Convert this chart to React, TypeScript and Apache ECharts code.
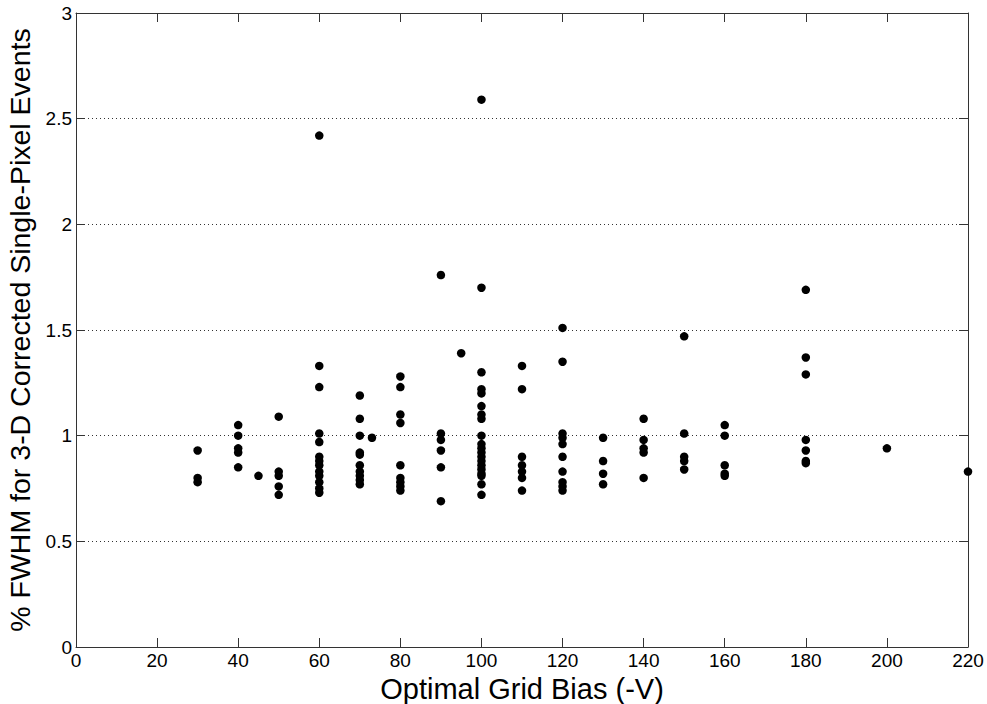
import React, { useEffect, useRef } from "react";
import * as echarts from "echarts";

const gridBias = [30, 40, 45, 50, 60, 70, 73, 80, 90, 95, 100, 110, 120, 130, 140, 150, 160, 180, 200, 220];
const fwhm: number[][] = [
  [0.93, 0.8, 0.78],
  [1.05, 1.0, 0.94, 0.92, 0.85],
  [0.81],
  [1.09, 0.83, 0.81, 0.76, 0.72],
  [2.42, 1.33, 1.23, 1.01, 0.97, 0.9, 0.88, 0.86, 0.83, 0.81, 0.78, 0.75, 0.73],
  [1.19, 1.08, 1.0, 0.92, 0.91, 0.86, 0.83, 0.81, 0.79, 0.77],
  [0.99],
  [1.28, 1.23, 1.1, 1.06, 0.86, 0.8, 0.78, 0.76, 0.74],
  [1.76, 1.01, 0.98, 0.93, 0.85, 0.69],
  [1.39],
  [2.59, 1.7, 1.3, 1.22, 1.2, 1.14, 1.1, 1.08, 1.0, 0.96, 0.94, 0.92, 0.9, 0.88, 0.86, 0.84, 0.82, 0.81, 0.77, 0.72],
  [1.33, 1.22, 0.9, 0.86, 0.83, 0.8, 0.74],
  [1.51, 1.35, 1.01, 0.99, 0.96, 0.9, 0.83, 0.78, 0.76, 0.74],
  [0.99, 0.88, 0.82, 0.77],
  [1.08, 0.98, 0.94, 0.92, 0.8],
  [1.47, 1.01, 0.9, 0.88, 0.84],
  [1.05, 1.0, 0.86, 0.82, 0.81],
  [1.69, 1.37, 1.29, 0.98, 0.93, 0.88, 0.87],
  [0.94],
  [0.83],
];
const xTitle = "Optimal Grid Bias (-V)";
const yTitle = "% FWHM for 3-D Corrected Single-Pixel Events";

export default function App() {
  const ref = useRef<HTMLDivElement>(null);
  useEffect(() => {
    if (!ref.current) return;
    const chart = echarts.init(ref.current, null, { renderer: "svg" });
    const data: number[][] = [];
    gridBias.forEach((x, i) => fwhm[i].forEach((y) => data.push([x, y])));
    const font = "'Liberation Sans', Arial, sans-serif";
    const axisLine = { show: true, onZero: false, lineStyle: { color: "#333", width: 1 } };
    const tick = { show: true, inside: true, length: 9, lineStyle: { color: "#333" } };
    chart.setOption({
      animation: false,
      backgroundColor: "#fff",
      grid: { left: 76, right: 19, top: 13, bottom: 57, containLabel: false, outerBoundsMode: "none" },
      xAxis: [
        {
          type: "value",
          min: 0,
          max: 220,
          interval: 20,
          name: xTitle,
          nameLocation: "middle",
          nameGap: 21,
          nameTextStyle: { fontFamily: font, fontSize: 29, color: "#000" },
          axisLine,
          axisTick: tick,
          axisLabel: { fontFamily: font, fontSize: 19, color: "#000", margin: 4 },
          splitLine: { show: false },
        },
        {
          type: "value",
          position: "top",
          min: 0,
          max: 220,
          interval: 20,
          axisLine,
          axisTick: tick,
          axisLabel: { show: false },
          splitLine: { show: false },
        },
      ],
      yAxis: [
        {
          type: "value",
          min: 0,
          max: 3,
          interval: 0.5,
          name: yTitle,
          nameLocation: "middle",
          nameGap: 41,
          nameTextStyle: { fontFamily: font, fontSize: 28.5, color: "#000" },
          axisLine,
          axisTick: tick,
          axisLabel: { fontFamily: font, fontSize: 19, color: "#000", margin: 4 },
          splitLine: { show: true, lineStyle: { color: "#333", type: [1, 3], width: 1 } },
        },
        {
          type: "value",
          position: "right",
          min: 0,
          max: 3,
          interval: 0.5,
          axisLine,
          axisTick: tick,
          axisLabel: { show: false },
          splitLine: { show: false },
        },
      ],
      series: [
        {
          type: "scatter",
          data,
          symbol: "circle",
          symbolSize: 8.5,
          itemStyle: { color: "#000", opacity: 1 },
          clip: false,
        },
      ],
    });
    return () => chart.dispose();
  }, []);
  return (
    <div
      ref={ref}
      style={{ position: "absolute", left: 0, top: 0, width: 987, height: 704 }}
    />
  );
}
